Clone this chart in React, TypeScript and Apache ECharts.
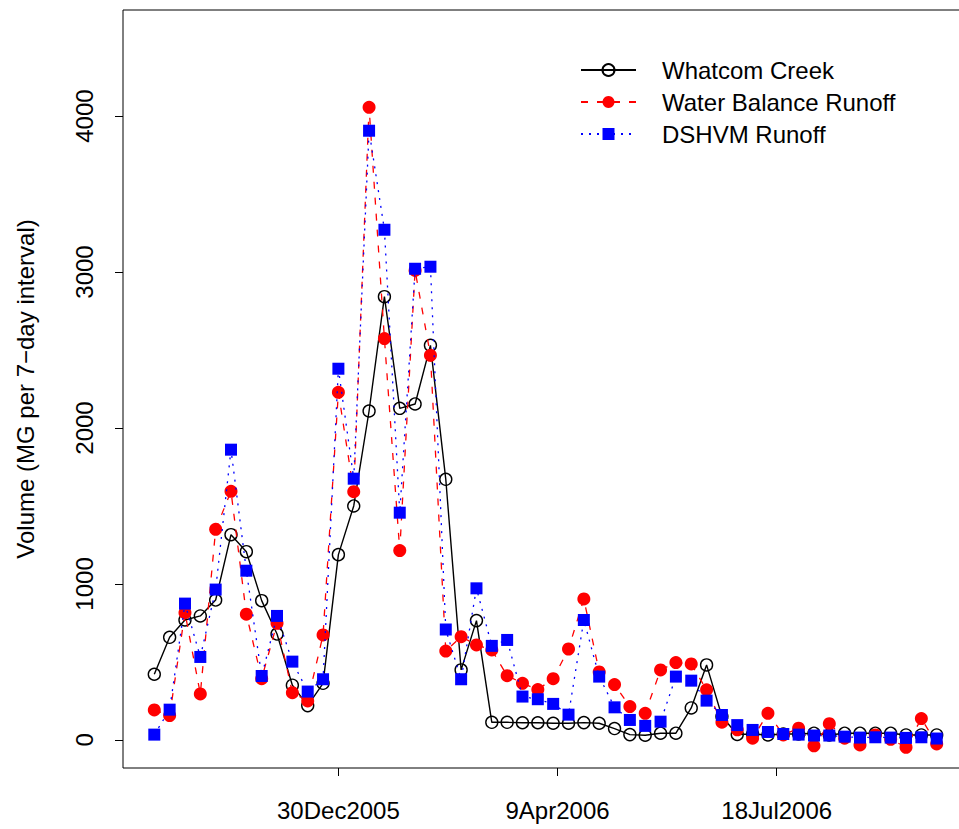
import React, { useEffect, useRef } from "react";
import * as echarts from "echarts";

const dates: string[] = [
  "2005-10-07", "2005-10-14", "2005-10-21", "2005-10-28",
  "2005-11-04", "2005-11-11", "2005-11-18", "2005-11-25",
  "2005-12-02", "2005-12-09", "2005-12-16", "2005-12-23", "2005-12-30",
  "2006-01-06", "2006-01-13", "2006-01-20", "2006-01-27",
  "2006-02-03", "2006-02-10", "2006-02-17", "2006-02-24",
  "2006-03-03", "2006-03-10", "2006-03-17", "2006-03-24", "2006-03-31",
  "2006-04-07", "2006-04-14", "2006-04-21", "2006-04-28",
  "2006-05-05", "2006-05-12", "2006-05-19", "2006-05-26",
  "2006-06-02", "2006-06-09", "2006-06-16", "2006-06-23", "2006-06-30",
  "2006-07-07", "2006-07-14", "2006-07-21", "2006-07-28",
  "2006-08-04", "2006-08-11", "2006-08-18", "2006-08-25",
  "2006-09-01", "2006-09-08", "2006-09-15", "2006-09-22", "2006-09-29",
];

const whatcomCreek: number[] = [
  421, 658, 769, 795, 897, 1316, 1207, 893, 679, 351, 220, 363, 1188,
  1500, 2109, 2842, 2126, 2154, 2530, 1671, 449, 765, 113, 113, 110, 110,
  107, 107, 111, 107, 73, 34, 30, 43, 43, 205, 481, 150, 35,
  38, 32, 38, 38, 43, 32, 43, 43, 43, 43, 32, 32, 32,
];

const waterBalanceRunoff: number[] = [
  192, 156, 816, 295, 1350, 1594, 806, 393, 748, 303, 250, 673, 2229,
  1592, 4056, 2573, 1214, 3010, 2466, 570, 662, 609, 577, 412, 363, 323,
  393, 583, 904, 436, 355, 214, 171, 449, 496, 487, 321, 114, 65,
  11, 171, 32, 75, -38, 104, 11, -32, 32, 4, -47, 137, -26,
];

const dshvmRunoff: number[] = [
  34, 194, 874, 532, 964, 1861, 1085, 410, 795, 502, 310, 389, 2380,
  1675, 3906, 3271, 1457, 3021, 3034, 708, 389, 972, 603, 641, 278, 261,
  231, 162, 769, 406, 209, 128, 90, 117, 406, 380, 252, 160, 95,
  64, 51, 38, 34, 28, 28, 21, 15, 17, 15, 13, 17, 9,
];

const xTickDates: string[] = ["2005-12-30", "2006-04-09", "2006-07-18"];
const xTickLabels: string[] = ["30Dec2005", "9Apr2006", "18Jul2006"];
const yTickValues: number[] = [0, 1000, 2000, 3000, 4000];

const FONT = "'Liberation Sans', Arial, Helvetica, sans-serif";
const FS = 24;
const BASE = Date.parse("2005-12-30T00:00:00Z");
const toDay = (d: string) => (Date.parse(d + "T00:00:00Z") - BASE) / 86400000;

export default function App() {
  const ref = useRef<HTMLDivElement>(null);

  useEffect(() => {
    if (!ref.current) return;
    const chart = echarts.init(ref.current, null, { renderer: "svg" });
    const xs = dates.map(toDay);
    const tickDays = xTickDates.map(toDay);
    const span = xs[xs.length - 1] - xs[0];
    const xMin = xs[0] - span * 0.04;
    const xMax = xs[xs.length - 1] + span * 0.04;

    const mk = (vals: number[]) => vals.map((v, i) => [xs[i], v]);

    chart.setOption({
      animation: false,
      backgroundColor: "#ffffff",
      textStyle: { fontFamily: FONT, color: "#000" },
      grid: {
        left: 123,
        top: 10,
        bottom: 61,
        right: 12,
        show: true,
        borderColor: "#000",
        borderWidth: 1,
        backgroundColor: "transparent",
      },
      legend: {
        orient: "vertical",
        left: 580,
        top: 58,
        padding: 0,
        itemWidth: 55,
        itemHeight: 15,
        itemGap: 8,
        textStyle: {
          fontFamily: FONT,
          fontSize: FS,
          color: "#000",
          padding: [0, 0, 0, 21],
        },
        data: ["Whatcom Creek", "Water Balance Runoff", "DSHVM Runoff"],
      },
      xAxis: {
        type: "value",
        min: xMin,
        max: xMax,
        axisLine: { show: false, onZero: false },
        splitLine: { show: false },
        axisTick: {
          show: true,
          length: 8,
          lineStyle: { color: "#000", width: 1 },
          customValues: tickDays,
        },
        axisLabel: {
          show: true,
          margin: 30,
          fontFamily: FONT,
          fontSize: FS,
          color: "#000",
          customValues: tickDays,
          formatter: (v: number) => {
            const i = tickDays.findIndex((d) => Math.abs(d - v) < 0.5);
            return i >= 0 ? xTickLabels[i] : "";
          },
        },
      },
      yAxis: {
        type: "value",
        min: -180,
        max: 4680,
        name: "Volume (MG per 7\u2212day interval)",
        nameLocation: "middle",
        nameRotate: 90,
        nameGap: 86,
        nameTextStyle: { fontFamily: FONT, fontSize: FS, color: "#000" },
        axisLine: { show: false, onZero: false },
        splitLine: { show: false },
        axisTick: {
          show: true,
          length: 8,
          lineStyle: { color: "#000", width: 1 },
          customValues: yTickValues,
        },
        axisLabel: {
          show: true,
          rotate: 90,
          margin: 27,
          fontFamily: FONT,
          fontSize: FS,
          color: "#000",
          customValues: yTickValues,
          formatter: (v: number) => String(Math.round(v)),
        },
      },
      series: [
        {
          name: "Whatcom Creek",
          type: "line",
          z: 2,
          data: mk(whatcomCreek),
          symbol: "circle",
          symbolSize: 12,
          showAllSymbol: true,
          color: "#000",
          lineStyle: { color: "#000", width: 1.4, type: "solid" },
          itemStyle: { color: "rgba(255,255,255,0)", borderColor: "#000", borderWidth: 1.4 },
        },
        {
          name: "Water Balance Runoff",
          type: "line",
          z: 3,
          data: mk(waterBalanceRunoff),
          symbol: "circle",
          symbolSize: 13,
          showAllSymbol: true,
          color: "#ff0000",
          lineStyle: { color: "#ff0000", width: 1.3, type: [7, 9] },
          itemStyle: { color: "#ff0000", borderWidth: 0 },
        },
        {
          name: "DSHVM Runoff",
          type: "line",
          z: 4,
          data: mk(dshvmRunoff),
          symbol: "rect",
          symbolSize: 12,
          showAllSymbol: true,
          color: "#0000ff",
          lineStyle: { color: "#0000ff", width: 1.3, type: [2, 6] },
          itemStyle: { color: "#0000ff", borderWidth: 0 },
        },
      ],
    });
    return () => chart.dispose();
  }, []);

  return (
    <div style={{ position: "absolute", left: 0, top: 0, width: 959, height: 829, overflow: "hidden" }}>
      <div ref={ref} style={{ width: 980, height: 829 }} />
    </div>
  );
}
